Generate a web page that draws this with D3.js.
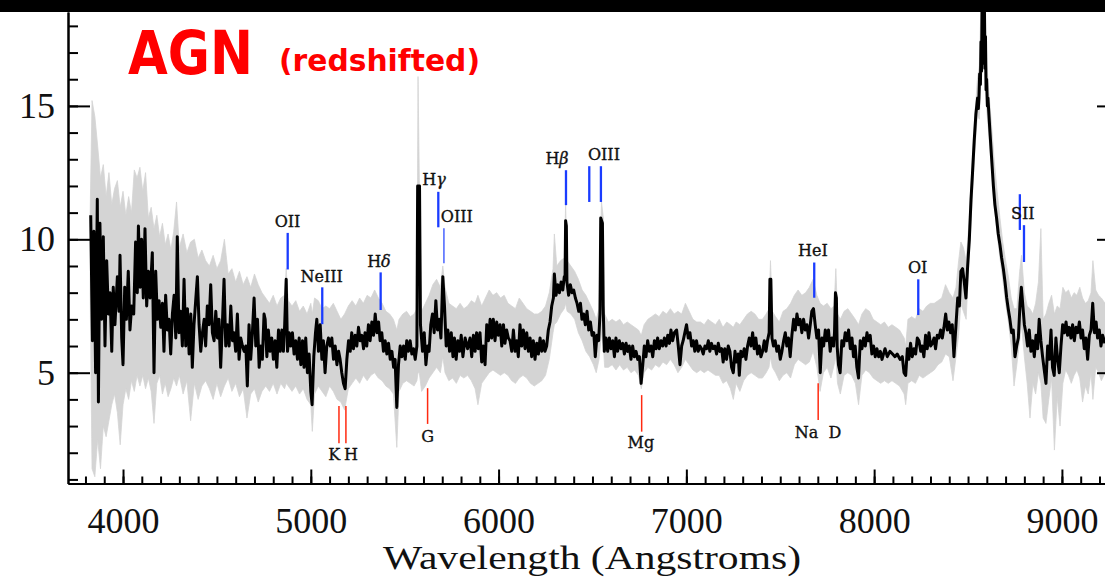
<!DOCTYPE html>
<html>
<head>
<meta charset="utf-8">
<script src="https://cdn.jsdelivr.net/npm/d3@7"></script>
<style>
  body { margin: 0; background: #fff; }
  svg { display: block; }
</style>
</head>
<body>
<svg id="chart"></svg>
<script>
// smoothed spectrum (black): [wavelength (A), flux]
const spectrum = [
  [3828,10.9],[3837,6.2],[3845,10.3],[3854,5.0],[3863,11.5],[3869,3.9],[3877,10.6],[3886,7.0],[3895,10.1],[3904,6.0],
  [3913,9.2],[3922,7.2],[3931,8.0],[3940,5.8],[3948,8.2],[3957,6.8],[3970,8.6],[3979,7.3],[3984,9.4],[3993,6.3],
  [4000,5.3],[4009,8.2],[4018,7.0],[4028,8.8],[4037,6.6],[4046,7.5],[4057,7.2],[4067,9.9],[4076,8.0],[4082,10.5],
  [4091,8.2],[4099,10.0],[4108,7.8],[4117,10.4],[4126,7.5],[4135,8.8],[4144,7.8],[4156,9.5],[4165,5.0],[4174,8.8],
  [4183,7.0],[4192,7.7],[4201,6.7],[4210,7.6],[4218,5.8],[4227,7.9],[4236,6.6],[4245,7.0],[4254,5.7],[4263,7.2],
  [4272,7.9],[4281,6.3],[4289,10.1],[4298,6.5],[4307,7.3],[4316,6.0],[4325,8.5],[4334,6.0],[4343,7.4],[4352,5.7],
  [4361,7.2],[4369,5.2],[4378,6.8],[4387,7.7],[4396,8.6],[4405,6.8],[4414,5.8],[4423,6.5],[4432,7.0],[4440,6.0],
  [4449,7.5],[4458,6.8],[4467,8.3],[4476,6.5],[4485,6.2],[4494,7.3],[4503,6.3],[4511,7.0],[4520,5.2],[4529,6.8],
  [4538,8.5],[4547,6.0],[4556,6.8],[4565,6.0],[4574,7.5],[4583,6.2],[4591,6.5],[4600,5.8],[4609,7.2],[4618,5.5],
  [4627,6.3],[4636,6.0],[4645,5.8],[4654,6.0],[4662,4.5],[4671,6.8],[4680,5.5],[4689,6.5],[4698,7.8],[4707,6.0],
  [4716,7.0],[4725,5.2],[4734,6.0],[4742,5.5],[4751,7.2],
  [4757,7.0],[4766,5.6],[4774,6.6],[4783,5.8],[4792,6.3],[4801,5.5],[4810,6.2],[4819,5.2],[4828,6.6],[4837,5.8],
  [4846,6.6],[4854,5.8],[4861,6.8],[4869,8.5],[4876,5.8],[4885,6.5],[4893,6.0],[4902,6.5],[4911,5.7],[4920,6.2],
  [4929,5.5],[4938,6.3],[4947,5.3],[4956,6.2],[4964,5.2],[4973,6.3],[4982,5.0],[4991,5.7],[5000,4.3],[5007,3.8],
  [5016,5.6],[5025,6.5],[5032,7.0],[5041,5.8],[5050,6.8],[5059,5.5],[5067,6.2],[5076,5.0],[5085,6.0],[5094,6.3],
  [5103,6.0],[5112,6.3],[5121,5.5],[5130,6.0],[5139,5.3],[5148,5.8],[5156,5.5],[5165,5.0],[5174,4.6],[5183,4.4],
  [5192,5.5],[5201,6.2],[5210,5.8],[5218,6.5],[5227,5.9],[5236,6.4],[5245,6.0],[5254,6.7],[5263,6.2],[5272,6.4],
  [5281,5.9],[5289,6.5],[5298,6.0],[5307,6.8],[5316,6.2],[5325,6.9],[5334,6.4],[5343,7.2],[5352,6.5],[5361,6.9],
  [5369,6.2],[5378,6.5],[5387,5.8],[5396,6.2],[5405,5.7],[5414,6.1],[5423,5.5],[5432,5.8],[5441,5.2],[5449,5.5],
  [5458,3.7],[5467,5.3],[5476,6.0],[5485,5.6],[5494,6.0],[5503,5.5],[5511,6.2],[5520,5.8],[5529,6.2],[5538,5.7],
  [5547,5.9],[5556,5.5],[5565,6.0],[5569,12.0],[5579,12.0],[5584,6.8],[5595,5.8],[5604,6.5],[5613,5.3],[5622,6.0],
  [5630,5.8],[5639,6.8],[5648,7.2],[5657,6.5],[5666,7.7],[5675,6.6],[5684,7.0],[5693,6.3],[5703,8.6],[5712,7.5],
  [5721,6.0],[5730,6.6],[5739,5.8],[5748,6.5],[5757,5.6],[5765,6.3],[5774,5.5],[5783,6.2],[5792,5.8],[5801,6.4],
  [5810,5.6],[5822,6.3],[5835,5.9],
  [5848,6.3],[5857,5.6],[5866,6.4],[5875,5.8],[5883,6.5],[5892,5.9],[5901,6.5],[5910,5.4],[5919,6.0],[5928,5.3],
  [5937,6.8],[5946,6.2],[5955,7.0],[5963,6.3],[5972,7.0],[5981,6.2],[5990,6.9],[5999,6.4],[6008,6.8],[6017,6.0],
  [6026,6.8],[6034,6.1],[6043,6.6],[6052,6.3],[6061,6.2],[6070,5.8],[6079,6.6],[6088,5.8],[6097,6.2],[6105,5.6],
  [6114,6.8],[6123,6.0],[6132,6.6],[6141,5.9],[6150,6.5],[6159,5.8],[6168,6.3],[6176,5.6],[6185,6.2],[6194,5.5],
  [6203,6.1],[6212,5.7],[6221,6.3],[6230,5.8],[6239,6.2],[6247,5.8],[6256,6.0],[6265,6.6],[6274,6.9],[6283,7.5],
  [6292,7.8],[6297,8.7],[6306,7.9],[6315,8.3],[6324,8.0],[6333,8.4],[6342,8.1],[6350,8.6],[6354,8.5],[6357,10.7],
  [6361,10.5],[6364,8.4],[6373,7.9],[6382,8.3],[6391,8.0],[6400,8.1],[6409,7.8],[6418,7.6],[6427,7.3],[6436,7.6],
  [6444,7.0],[6453,7.2],[6462,6.8],[6471,7.3],[6480,6.6],[6489,6.9],[6498,6.4],[6507,6.5],[6515,5.6],[6524,6.4],
  [6533,6.2],[6540,7.2],[6544,10.8],[6553,10.6],[6557,7.5],[6563,5.8],[6572,6.3],[6581,5.8],[6590,6.3],[6599,5.9],
  [6608,6.2],[6617,5.6],[6625,6.3],[6634,5.8],[6643,6.2],[6652,5.9],[6661,6.1],[6670,5.7],[6679,6.1],[6688,5.8],
  [6696,6.0],[6705,5.5],[6714,6.0],[6723,5.6],[6732,5.8],[6741,5.5],[6750,5.6],[6759,4.6],[6768,5.3],[6776,6.0],
  [6785,5.6],[6794,6.2],[6803,5.8],[6812,6.0],[6821,5.6],[6830,6.2],[6839,5.9],[6847,6.3],[6856,5.9],[6865,6.2],
  [6874,6.0],[6883,6.3],[6892,6.0],[6901,6.4],[6910,6.1],[6918,6.6],[6927,6.2],[6936,6.5],
  [6948,6.6],[6957,6.0],[6966,5.3],[6975,6.0],[6983,6.2],[6992,6.5],[7001,6.8],[7010,6.3],[7019,6.5],[7028,6.0],
  [7037,6.2],[7045,5.8],[7054,6.2],[7063,5.8],[7072,6.0],[7081,5.9],[7090,5.7],[7099,6.0],[7108,5.9],[7117,6.2],
  [7125,5.8],[7134,6.1],[7143,5.9],[7152,6.0],[7161,5.7],[7170,6.1],[7179,5.8],[7188,5.9],[7196,5.4],[7205,5.9],
  [7214,5.5],[7223,6.0],[7232,5.8],[7241,5.2],[7250,5.0],[7259,5.8],[7267,5.4],[7276,5.7],[7282,4.9],[7290,5.8],
  [7299,5.6],[7308,5.9],[7317,5.5],[7326,6.0],[7335,6.3],[7344,6.0],[7353,6.5],[7361,5.9],[7370,6.3],[7379,5.7],
  [7388,6.0],[7397,5.6],[7406,5.8],[7415,6.2],[7424,5.8],[7432,6.2],[7441,6.5],[7445,8.5],[7450,8.5],[7456,6.3],
  [7464,6.0],[7473,6.2],[7482,5.8],[7491,6.0],[7500,5.5],[7509,5.8],[7518,6.2],[7527,6.5],[7535,6.0],[7544,6.3],
  [7553,5.6],[7562,6.4],[7571,7.0],[7580,6.6],[7589,7.2],[7598,6.8],[7606,7.0],[7615,6.5],[7624,7.0],[7633,6.6],
  [7642,6.8],[7651,6.3],[7660,6.8],[7668,7.3],[7677,7.4],[7686,6.8],[7695,6.3],[7704,6.6],[7713,5.0],[7722,6.3],
  [7731,6.0],[7740,6.6],[7748,6.2],[7757,6.6],[7766,5.8],[7775,6.3],[7784,6.0],[7789,6.5],[7794,8.0],[7799,7.8],
  [7803,6.0],[7810,5.3],[7819,5.0],[7828,6.2],[7837,6.0],[7846,6.5],[7855,6.2],[7864,6.6],[7873,5.9],[7882,6.3],
  [7890,5.6],[7899,6.0],[7908,5.2],[7917,4.8],[7926,6.2],[7935,5.9],[7944,6.3],[7953,6.0],[7962,6.5],[7970,6.2],
  [7979,6.4],[7988,5.7],[7997,6.0],[8006,5.6],[8015,5.9],[8024,5.6],[8033,5.8],[8042,5.5],
  [8058,5.9],[8070,5.6],[8084,5.8],[8098,5.7],[8111,5.6],[8123,5.7],[8138,5.5],[8150,5.6],[8159,5.0],[8168,4.9],
  [8177,5.9],[8185,5.5],[8194,6.1],[8203,5.6],[8212,5.9],[8221,5.7],[8230,6.3],[8239,6.2],[8248,5.8],[8256,6.0],
  [8265,5.6],[8274,6.4],[8283,5.9],[8292,6.5],[8301,6.0],[8310,6.1],[8319,6.3],[8327,5.9],[8336,6.4],[8345,6.3],
  [8354,6.6],[8363,6.3],[8372,6.7],[8381,7.2],[8390,6.6],[8398,6.9],[8407,6.5],[8416,6.8],[8425,5.6],[8436,6.8],
  [8445,7.8],[8454,7.5],[8462,8.8],[8471,8.9],[8480,8.4],[8489,7.8],[8498,9.0],[8507,10.0],[8516,11.5],[8524,12.5],
  [8533,13.7],[8542,14.7],[8551,15.3],[8555,14.9],[8558,15.3],[8562,16.2],[8566,15.8],[8569,17.4],[8572,16.3],[8575,19.0],
  [8578,16.6],[8581,19.0],[8584,16.8],[8587,19.0],[8590,16.4],[8593,17.6],[8596,15.6],[8599,16.0],[8603,15.0],[8606,15.3],
  [8617,14.0],[8626,13.0],[8635,12.0],[8643,11.3],[8652,10.8],[8661,10.2],[8670,9.8],[8679,9.3],[8688,8.9],[8697,8.4],
  [8706,7.8],[8714,7.4],[8723,7.0],[8732,6.5],[8741,6.6],[8750,5.6],[8759,6.0],[8768,6.3],[8777,7.6],[8784,8.2],
  [8791,7.6],[8800,6.8],[8808,6.5],[8817,6.0],[8826,6.6],[8835,5.8],[8844,6.2],[8853,5.6],[8862,6.4],[8871,5.9],
  [8879,7.0],[8888,6.2],[8897,5.6],[8906,5.1],[8915,4.6],[8924,6.0],[8933,5.5],[8942,6.6],[8950,5.2],[8959,4.9],
  [8968,6.3],[8977,5.5],[8986,5.0],[8995,6.0],[9004,6.8],[9013,6.5],[9022,6.9],[9030,6.4],[9039,6.7],[9048,6.3],
  [9057,6.8],[9066,6.2],[9075,6.7],[9084,6.5],[9093,6.9],[9102,6.3],[9110,6.6],[9119,5.9],[9128,6.3],[9137,5.5],
  [9146,6.4],[9155,6.6],[9164,7.6],[9173,6.5],[9182,6.9],[9190,6.3],[9199,6.6],[9208,6.0],[9217,6.4],[9229,6.1]
];

// raw spectrum spread (grey): [wavelength, low, high]
const rawBand = [
  [3825,8.0,11.0],[3835,1.4,15.2],[3850,1.1,14.6],[3865,2.5,13.5],[3880,1.4,12.3],[3895,3.0,12.8],[3910,2.6,11.6],
  [3925,3.2,12.5],[3940,3.8,11.3],[3955,4.2,11.9],[3970,3.5,12.2],[3985,2.3,11.2],[4000,3.8,11.8],[4015,4.4,10.9],
  [4030,4.0,11.6],[4045,4.7,11.0],[4060,4.3,12.6],[4075,4.9,12.3],[4090,4.5,12.7],[4105,4.9,11.8],[4120,4.4,12.5],
  [4135,4.8,10.8],[4150,4.3,11.2],[4165,3.1,10.4],[4180,4.6,10.9],[4195,4.9,10.1],[4210,4.2,10.6],[4225,4.6,9.8],
  [4240,4.1,10.2],[4255,4.4,9.6],[4270,4.8,10.3],[4285,4.5,11.4],[4300,4.9,9.7],[4320,4.2,10.2],[4340,4.7,9.5],
  [4360,3.2,9.9],[4380,4.6,10.0],[4400,4.0,9.3],[4420,4.5,9.6],[4440,4.7,9.2],[4460,4.4,9.0],[4480,4.0,9.4],
  [4500,4.6,8.9],[4520,4.1,9.2],[4540,4.5,10.0],[4560,4.8,8.7],[4580,4.3,8.9],[4600,4.6,8.4],[4620,4.1,8.8],
  [4640,4.4,8.3],[4660,3.3,8.6],[4680,4.2,8.2],[4700,4.4,8.7],[4720,3.9,8.3],[4740,4.3,8.0],[4760,4.5,7.8],
  [4780,4.3,7.6],[4800,4.6,7.9],[4820,4.2,7.5],[4840,4.6,7.8],[4860,4.4,7.9],[4869,4.6,8.9],[4880,4.5,7.7],
  [4900,4.3,7.5],[4920,4.5,7.7],[4940,4.2,7.3],[4960,4.4,7.5],[4980,4.0,7.2],[5000,3.8,7.6],[5008,2.8,7.2],
  [5020,4.2,7.8],[5040,4.5,7.7],[5060,4.3,7.4],[5080,4.1,7.5],[5100,4.5,7.4],[5120,4.3,7.6],[5140,4.0,7.3],
  [5160,3.9,7.0],[5180,3.6,7.2],[5200,4.4,7.5],[5220,4.6,7.7],[5240,4.8,7.5],[5260,4.6,7.8],[5280,4.9,7.6],
  [5300,4.7,7.9],[5320,4.9,7.8],[5340,5.0,8.1],[5360,4.8,7.8],[5380,4.7,7.6],[5400,4.5,7.3],[5420,4.4,7.2],
  [5440,4.2,7.0],[5458,2.2,6.6],[5470,4.3,7.0],[5490,4.6,7.2],[5510,4.7,7.3],[5530,4.6,7.1],[5550,4.5,7.2],
  [5565,4.7,7.4],[5571,5.0,16.1],[5578,5.0,12.2],[5590,4.3,7.3],[5610,4.5,7.6],[5630,4.8,7.9],[5650,5.0,8.3],
  [5670,5.2,8.5],[5690,5.0,8.2],[5703,5.6,9.0],[5715,5.0,8.2],[5735,4.7,7.6],[5755,4.8,7.5],[5775,4.6,7.4],
  [5795,4.9,7.6],[5815,4.8,7.4],[5835,4.9,7.5],[5855,4.7,7.7],[5875,4.4,7.6],[5890,3.8,7.9],[5910,4.6,7.5],
  [5930,4.8,7.8],[5950,5.0,8.1],[5970,5.1,7.9],[5990,5.0,8.0],[6010,4.9,7.8],[6030,5.0,7.9],[6050,4.9,7.6],
  [6070,4.7,7.5],[6090,4.6,7.4],[6110,4.8,7.8],[6130,4.9,7.6],[6150,4.8,7.4],[6170,4.6,7.3],[6190,4.5,7.2],
  [6210,4.6,7.2],[6230,4.7,7.3],[6250,4.9,7.5],[6270,5.5,8.0],[6290,6.5,8.9],[6297,6.8,10.2],[6310,6.9,9.0],
  [6330,7.2,9.2],[6350,7.4,9.3],[6357,7.6,11.3],[6365,7.3,9.2],[6385,7.2,9.0],[6405,7.0,8.8],[6425,6.5,8.5],
  [6445,6.2,8.1],[6465,5.8,7.9],[6485,5.6,7.6],[6505,5.3,7.3],[6520,5.0,7.0],[6535,5.5,7.4],[6548,6.5,11.4],
  [6558,6.0,10.8],[6565,5.2,7.2],[6585,5.2,6.9],[6605,5.3,7.0],[6625,5.1,6.9],[6645,5.3,7.0],[6665,5.1,6.8],
  [6685,5.2,6.9],[6705,5.0,6.8],[6725,5.1,6.7],[6745,4.9,6.6],[6760,4.4,6.4],[6775,5.0,6.8],[6795,5.2,7.0],
  [6815,5.1,7.1],[6835,5.3,7.2],[6855,5.2,7.1],[6875,5.4,7.3],[6895,5.3,7.2],[6915,5.5,7.4],[6935,5.3,7.2],
  [6955,5.0,7.3],[6975,5.2,7.2],[6995,5.5,7.6],[7015,5.3,7.3],[7035,5.1,7.0],[7055,5.0,6.9],[7075,5.1,6.9],
  [7095,5.0,6.8],[7115,5.1,7.0],[7135,5.0,6.9],[7155,4.9,6.8],[7175,4.9,7.0],[7195,4.6,6.7],[7215,4.7,6.9],
  [7235,4.4,6.8],[7250,4.0,6.7],[7265,4.6,6.9],[7285,4.3,6.8],[7305,4.7,7.0],[7325,4.9,7.2],[7345,5.0,7.3],
  [7365,4.9,7.2],[7385,4.8,7.0],[7405,4.8,7.0],[7425,5.0,7.2],[7440,5.2,7.4],[7448,5.6,9.2],[7458,5.2,7.3],
  [7475,5.0,7.1],[7495,4.7,6.9],[7515,4.9,7.3],[7535,5.0,7.4],[7555,4.8,7.6],[7575,5.3,7.9],[7595,5.5,8.1],
  [7615,5.4,7.9],[7635,5.3,8.0],[7655,5.4,8.2],[7675,5.8,8.5],[7695,5.2,7.9],[7712,4.3,7.6],[7730,5.0,7.5],
  [7750,5.2,7.6],[7770,4.8,7.4],[7787,5.3,7.5],[7796,5.6,8.9],[7805,4.6,7.2],[7820,4.2,7.0],[7840,4.9,7.3],
  [7860,5.0,7.4],[7880,4.9,7.2],[7900,4.6,7.0],[7917,3.8,6.8],[7935,4.9,7.2],[7955,5.1,7.4],[7975,5.0,7.3],
  [7995,4.8,7.0],[8015,4.7,6.9],[8035,4.6,6.8],[8055,4.7,6.9],[8075,4.6,6.7],[8095,4.7,6.8],[8115,4.6,6.7],
  [8135,4.5,6.6],[8160,4.2,6.3],[8168,3.8,6.0],[8180,4.6,7.0],[8200,4.7,7.1],[8220,4.6,7.0],[8240,4.9,7.4],
  [8260,4.8,7.3],[8280,4.9,7.5],[8300,5.0,7.6],[8320,5.1,7.6],[8340,5.3,7.7],[8360,5.4,7.8],[8380,5.7,8.3],
  [8400,5.6,8.0],[8420,4.7,7.8],[8436,5.6,8.2],[8450,6.4,9.2],[8462,7.6,9.9],[8475,7.3,9.7],[8490,7.0,9.2],
  [8505,9.2,10.6],[8520,11.2,12.6],[8535,13.2,14.5],[8550,14.7,16.0],[8560,14.5,16.5],[8570,16.3,19.0],[8580,17.2,19.0],
  [8592,16.0,19.0],[8600,14.8,16.6],[8610,14.0,15.6],[8625,12.6,14.3],[8640,11.3,12.9],[8655,10.2,11.8],[8670,9.3,10.8],
  [8685,8.5,9.9],[8700,7.6,9.2],[8715,6.9,8.6],[8730,6.0,7.8],[8745,4.5,7.4],[8760,5.3,7.4],[8775,6.2,8.8],
  [8785,6.8,9.4],[8800,5.6,8.0],[8815,4.6,7.5],[8830,3.3,7.4],[8845,4.6,7.2],[8860,4.2,7.6],[8875,5.0,8.4],
  [8888,4.6,10.4],[8900,3.3,7.0],[8915,3.1,7.2],[8930,4.0,7.6],[8945,4.8,7.9],[8960,2.1,7.2],[8975,4.1,7.5],
  [8990,3.0,7.4],[9005,4.6,8.2],[9020,5.1,8.0],[9035,4.9,8.1],[9050,4.6,7.8],[9065,4.9,8.0],[9080,5.1,7.9],
  [9095,4.8,8.2],[9110,3.9,7.8],[9125,4.5,7.6],[9140,4.2,7.7],[9155,5.0,8.0],[9165,4.0,9.2],[9180,5.2,8.1],
  [9195,5.0,7.9],[9210,4.7,7.8],[9230,5.0,7.6]
];

// emission line markers (blue): [wavelength, flux top, flux bottom]
const emissionMarks = [
  [4877,10.24,8.87],[5061,8.2,6.82],[5372,8.76,7.35],[5679,11.78,10.45],[6359,12.59,11.28],
  [6483,12.74,11.4],[6545,12.74,11.4],[7681,9.13,7.81],[8235,8.5,7.16],[8776,11.69,10.35],[8798,10.53,9.15]
];
const faintEmissionMarks = [[5709,10.41,9.1]];
// absorption line markers (red)
const absorptionMarks = [
  [5150,3.75,2.36],[5187,3.75,2.36],[5622,4.42,3.08],[6762,4.16,2.79],[7702,4.6,3.23]
];
// line labels: [text, wavelength, flux of baseline]
const lineLabels = [
  ["OII",4876,10.47],["NeIII",5058,8.41],["H|δ",5363,8.97],["H|γ",5656,12.03],["OIII",5778,10.66],
  ["H|β",6311,12.84],["OIII",6561,12.97],["HeI",7674,9.37],["OI",8232,8.72],["SII",8792,10.76],
  ["K",5125,1.73],["H",5214,1.73],["G",5622,2.42],["Mg",6758,2.18],["Na  D",7701,2.54]
];

const xTickValues = [4000, 5000, 6000, 7000, 8000, 9000];
const yTickValues = [5, 10, 15];

const width = 1105, height = 579;
const svg = d3.select("#chart").attr("width", width).attr("height", height);
svg.append("rect").attr("width", width).attr("height", height).attr("fill", "#fff");

const x = d3.scaleLinear().domain([3707, 9304]).range([68, 1119]);
const y = d3.scaleLinear().domain([0.847, 18.52]).range([483.5, 12]);

svg.append("clipPath").attr("id", "plotClip")
  .append("rect").attr("x", 68).attr("y", 0).attr("width", 1051).attr("height", 483.5);

const plot = svg.append("g").attr("clip-path", "url(#plotClip)");

// grey raw spectrum band
const band = d3.area()
  .x(d => x(d[0]))
  .y0(d => y(d[1]))
  .y1(d => y(d[2]));
plot.append("path")
  .datum(rawBand)
  .attr("d", band)
  .attr("fill", "#d4d4d4")
  .attr("stroke", "#d4d4d4")
  .attr("stroke-width", 0.8);

// black smoothed spectrum
const line = d3.line().x(d => x(d[0])).y(d => y(d[1]));
plot.append("path")
  .datum(spectrum)
  .attr("d", line)
  .attr("fill", "none")
  .attr("stroke", "#000")
  .attr("stroke-width", 3)
  .attr("stroke-linejoin", "round");

// line markers
const marks = svg.append("g");
marks.selectAll(".em").data(emissionMarks).enter().append("line")
  .attr("x1", d => x(d[0])).attr("x2", d => x(d[0]))
  .attr("y1", d => y(d[1])).attr("y2", d => y(d[2]))
  .attr("stroke", "#1a3cff").attr("stroke-width", 2.3);
marks.selectAll(".fem").data(faintEmissionMarks).enter().append("line")
  .attr("x1", d => x(d[0])).attr("x2", d => x(d[0]))
  .attr("y1", d => y(d[1])).attr("y2", d => y(d[2]))
  .attr("stroke", "#1a3cff").attr("stroke-width", 1.2);
marks.selectAll(".ab").data(absorptionMarks).enter().append("line")
  .attr("x1", d => x(d[0])).attr("x2", d => x(d[0]))
  .attr("y1", d => y(d[1])).attr("y2", d => y(d[2]))
  .attr("stroke", "#ff2a10").attr("stroke-width", 1.5);

// labels (greek part after "|" in italic)
const labels = svg.append("g")
  .attr("font-family", "'DejaVu Serif', serif")
  .attr("font-size", 16)
  .attr("fill", "#111")
  .attr("stroke", "#111")
  .attr("stroke-width", 0.35)
  .attr("text-anchor", "middle");
lineLabels.forEach(([t, w, v]) => {
  const txt = labels.append("text").attr("x", x(w)).attr("y", y(v)).attr("xml:space", "preserve");
  const parts = t.split("|");
  txt.append("tspan").text(parts[0]);
  if (parts[1]) txt.append("tspan").attr("font-style", "italic").text(parts[1]);
});

// axes
const tickFont = "'Liberation Serif', 'Times New Roman', serif";
function styleAxis(g) {
  g.selectAll("path, line").attr("stroke", "#000").attr("stroke-width", 2);
  g.selectAll("text").attr("fill", "#111").attr("font-family", tickFont).attr("font-size", 36);
}

const xMajor = svg.append("g").attr("transform", "translate(0,483.5)")
  .call(d3.axisBottom(x).tickValues(xTickValues).tickFormat(d3.format("d"))
    .tickSizeInner(-14).tickSizeOuter(0).tickPadding(24));
styleAxis(xMajor);
const xMinor = svg.append("g").attr("transform", "translate(0,483.5)")
  .call(d3.axisBottom(x).tickValues(d3.range(3800, 9301, 100)).tickFormat("")
    .tickSizeInner(-7).tickSizeOuter(0));
styleAxis(xMinor);

const yMajor = svg.append("g").attr("transform", "translate(68,0)")
  .call(d3.axisLeft(y).tickValues(yTickValues).tickSizeInner(-22).tickSizeOuter(0).tickPadding(13));
styleAxis(yMajor);
const yMinor = svg.append("g").attr("transform", "translate(68,0)")
  .call(d3.axisLeft(y).tickValues(d3.range(1, 19, 1)).tickFormat("").tickSizeInner(-10).tickSizeOuter(0));
styleAxis(yMinor);

const yRight = svg.append("g").attr("transform", "translate(1119,0)")
  .call(d3.axisRight(y).tickValues(yTickValues).tickFormat("").tickSizeInner(-22).tickSizeOuter(0));
styleAxis(yRight);
const yRightMinor = svg.append("g").attr("transform", "translate(1119,0)")
  .call(d3.axisRight(y).tickValues(d3.range(1, 19, 1)).tickFormat("").tickSizeInner(-10).tickSizeOuter(0));
styleAxis(yRightMinor);

svg.append("text")
  .attr("x", 592).attr("y", 569)
  .attr("text-anchor", "middle")
  .attr("font-family", tickFont)
  .attr("font-size", 33)
  .attr("fill", "#111")
  .attr("textLength", 418)
  .attr("lengthAdjust", "spacingAndGlyphs")
  .text("Wavelength (Angstroms)");

// title
svg.append("text")
  .attr("x", 128).attr("y", 74)
  .attr("font-family", "'DejaVu Sans', sans-serif")
  .attr("font-weight", "bold")
  .attr("font-size", 60)
  .attr("fill", "#ff0000")
  .attr("textLength", 125)
  .attr("lengthAdjust", "spacingAndGlyphs")
  .text("AGN");
svg.append("text")
  .attr("x", 279).attr("y", 71)
  .attr("font-family", "'DejaVu Sans', sans-serif")
  .attr("font-weight", "bold")
  .attr("font-size", 30)
  .attr("fill", "#ff0000")
  .attr("textLength", 201)
  .attr("lengthAdjust", "spacingAndGlyphs")
  .text("(redshifted)");

// black band across the top
svg.append("rect").attr("x", 0).attr("y", 0).attr("width", width).attr("height", 12).attr("fill", "#000");
</script>
</body>
</html>
